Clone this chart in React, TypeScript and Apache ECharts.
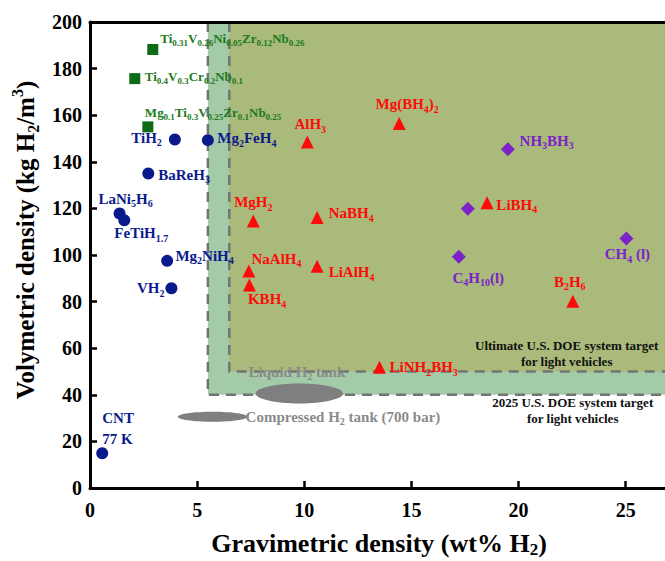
import React, { useEffect, useRef } from 'react';
import * as echarts from 'echarts';

// ---------- data ----------
const X_MAX = 27.3;
const Y_MAX = 200;
const xTickValues = [0, 5, 10, 15, 20, 25];

// alloys (green squares)
const alloyLabels = [
  'Ti{s|0.31}V{s|0.26}Ni{s|0.05}Zr{s|0.12}Nb{s|0.26}',
  'Ti{s|0.4}V{s|0.3}Cr{s|0.2}Nb{s|0.1}',
  'Mg{s|0.1}Ti{s|0.3}V{s|0.25}Zr{s|0.1}Nb{s|0.25}',
];
const alloyX = [2.93, 2.09, 2.7];
const alloyY = [188.2, 175.7, 155.0];

// metal hydrides & others (blue circles)
const metalLabels = ['TiH{s|2}', 'Mg{s|2}FeH{s|4}', 'BaReH{s|3}', 'LaNi{s|5}H{s|6}', 'FeTiH{s|1.7}', 'Mg{s|2}NiH{s|4}', 'VH{s|2}', 'CNT\n77 K'];
const metalX = [3.96, 5.5, 2.72, 1.38, 1.6, 3.6, 3.8, 0.57];
const metalY = [149.6, 149.3, 135.0, 117.8, 114.9, 97.5, 85.7, 14.9];

// complex hydrides (red triangles)
const complexLabels = ['Mg(BH{s|4}){s|2}', 'AlH{s|3}', 'MgH{s|2}', 'NaBH{s|4}', 'NaAlH{s|4}', 'KBH{s|4}', 'LiAlH{s|4}', 'LiBH{s|4}', 'B{s|2}H{s|6}', 'LiNH{s|2}BH{s|3}'];
const complexX = [14.43, 10.14, 7.62, 10.6, 7.41, 7.44, 10.6, 18.53, 22.53, 13.51];
const complexY = [156.4, 148.5, 114.6, 116.1, 93.1, 87.1, 95.2, 122.4, 80.2, 51.8];

// chemical hydrides (purple diamonds)
const chemLabels = ['NH{s|3}BH{s|3}', '', 'C{s|4}H{s|10}(l)', 'CH{s|4} (l)'];
const chemX = [19.5, 17.63, 17.21, 25.03];
const chemY = [145.4, 119.8, 99.2, 107.1];

// DOE targets (lower-left corners of the target regions)
const targetNames = ['2025 U.S. DOE system target\nfor light vehicles', 'Ultimate U.S. DOE system target\nfor light vehicles'];
const targetX = [5.5, 6.5];
const targetY = [40, 50];

// storage tanks (ellipses: centre, full width, full height)
const tankNames = ['Liquid H{s|2} tank', 'Compressed H{s|2} tank (700 bar)'];
const tankX = [9.77, 5.72];
const tankY = [40.6, 30.6];
const tankW = [4.08, 3.24];
const tankH = [8.6, 4.3];

// ---------- styles / layout ----------
const FONT = '"Liberation Serif", "Times New Roman", serif';
const BLUE = '#0A1A8C';
const RED = '#FF0A0A';
const GREEN_MK = '#0D6B16';
const GREEN_TX = '#1B7B1B';
const PURPLE = '#7B22C9';
const LIGHT_GREEN = '#A4CBA7';
const OLIVE = '#AABA7A';
const GRAY = '#7F7F7F';

const alloyLayout = [
  { position: 'right', distance: 2, offset: [0, -11] },
  { position: 'right', distance: 4.5, offset: [0, -2] },
  { position: 'right', distance: 0, offset: [-8.5, -14.7] },
];
const metalLayout: any[] = [
  { position: 'left', distance: 7, offset: [0, -1.5] },
  { position: 'right', distance: 3.4, offset: [0, -2] },
  { position: 'right', distance: 4, offset: [0, 1.5] },
  { position: 'top', distance: 1, offset: [6, 2] },
  { position: 'bottom', distance: 0, offset: [17, -3] },
  { position: 'right', distance: 2.3, offset: [0, -5] },
  { position: 'left', distance: 1, offset: [0, 0] },
  { position: 'top', distance: -2, offset: [0, 0], align: 'left', lineHeight: 21 },
];
const complexLayout = [
  { position: 'top', distance: 5, offset: [8, 2] },
  { position: 'top', distance: 3, offset: [3, 2] },
  { position: 'top', distance: 4, offset: [0, 2] },
  { position: 'right', distance: 5, offset: [0, -4] },
  { position: 'right', distance: -3.8, offset: [0, -12.5] },
  { position: 'bottom', distance: 0.5, offset: [17.7, -3] },
  { position: 'right', distance: 5, offset: [0, 6] },
  { position: 'right', distance: 2.8, offset: [0, 2] },
  { position: 'top', distance: 5, offset: [-3, 2] },
  { position: 'right', distance: 3.5, offset: [0, 0] },
];
const chemLayout: any[] = [
  { position: 'right', distance: 4.7, offset: [0, -8.5] },
  { show: false },
  { position: 'bottom', distance: 7, offset: [19.5, -3] },
  { position: 'bottom', distance: 2, offset: [1, -3] },
];
const tankLayout = [
  { dx: -50.8, dy: -21.6 },
  { dx: 33, dy: 0 },
];

function richFor(color: string, sub: number, pad: number) {
  return {
    s: { fontSize: sub, fontWeight: 'bold', fontFamily: FONT, color, padding: [pad, 0, 0, 0] },
  };
}

function scatterSeries(
  name: string,
  xs: number[],
  ys: number[],
  labels: string[],
  layout: any[],
  symbol: string,
  size: number,
  markerColor: string,
  textColor: string,
  fontSize: number,
  subSize: number,
  subPad: number
) {
  return {
    name,
    type: 'scatter',
    symbol,
    symbolSize: size,
    itemStyle: { color: markerColor, opacity: 1 },
    z: 4,
    data: xs.map((x, i) => ({
      value: [x, ys[i]],
      label: { ...layout[i] },
    })),
    label: {
      show: true,
      formatter: (p: any) => labels[p.dataIndex],
      color: textColor,
      fontSize,
      fontWeight: 'bold',
      fontFamily: FONT,
      rich: richFor(textColor, subSize, subPad),
    },
    emphasis: { disabled: true },
  };
}

export default function App() {
  const ref = useRef<HTMLDivElement>(null);

  useEffect(() => {
    if (!ref.current) return;
    const chart = echarts.init(ref.current, undefined, { renderer: 'svg' });

    const axisLabelStyle = { fontSize: 20, fontWeight: 'bold', fontFamily: FONT, color: '#000' };

    const option: any = {
      animation: false,
      backgroundColor: '#fff',
      grid: { left: 90, right: -10, top: 22, bottom: 73, containLabel: false, outerBoundsMode: 'none' },
      xAxis: [
        {
          type: 'value',
          min: 0,
          max: X_MAX,
          interval: 5,
          z: 6,
          position: 'bottom',
          splitLine: { show: false },
          axisLine: { show: true, lineStyle: { color: '#000', width: 3 } },
          axisTick: { show: true, inside: true, length: 7, lineStyle: { color: '#000', width: 2.5 }, customValues: xTickValues },
          axisLabel: { ...axisLabelStyle, margin: 12, customValues: xTickValues, formatter: (v: number) => (v % 5 === 0 ? String(v) : '') },
          name: 'Gravimetric density (wt% H{s|2})',
          nameLocation: 'middle',
          nameGap: 41,
          nameTextStyle: {
            fontSize: 26,
            fontWeight: 'bold',
            fontFamily: FONT,
            color: '#000',
            padding: [0, 7, 0, 0],
            rich: { s: { fontSize: 17, fontWeight: 'bold', fontFamily: FONT, color: '#000', padding: [12, 0, 0, 0] } },
          },
        },
        {
          type: 'value',
          min: 0,
          max: X_MAX,
          position: 'top',
          z: 6,
          axisLine: { show: true, lineStyle: { color: '#000', width: 3 } },
          axisTick: { show: false },
          axisLabel: { show: false },
          splitLine: { show: false },
        },
      ],
      yAxis: {
        type: 'value',
        min: 0,
        max: Y_MAX,
        interval: 20,
        z: 6,
        splitLine: { show: false },
        axisLine: { show: true, lineStyle: { color: '#000', width: 3 } },
        axisTick: { show: true, inside: true, length: 7, lineStyle: { color: '#000', width: 2.5 } },
        axisLabel: { ...axisLabelStyle, margin: 8 },
        name: 'Volymetric density (kg H{s|2}/m{p|3})',
        nameLocation: 'middle',
        nameGap: 44,
        nameTextStyle: {
          fontSize: 25,
          fontWeight: 'bold',
          fontFamily: FONT,
          color: '#000',
          padding: [0, 0, 0, 30],
          rich: {
            s: { fontSize: 16, fontWeight: 'bold', fontFamily: FONT, color: '#000', padding: [16, 0, 0, 0] },
            p: { fontSize: 16, fontWeight: 'bold', fontFamily: FONT, color: '#000', padding: [0, 0, 16, 0] },
          },
        },
      },
      graphic: [
        {
          type: 'text',
          x: 566.7,
          y: 353,
          z: 10,
          style: {
            text: targetNames[1],
            align: 'center',
            verticalAlign: 'middle',
            fontSize: 13,
            fontWeight: 'bold',
            fontFamily: FONT,
            fill: '#111',
            lineHeight: 16,
          },
        },
        {
          type: 'text',
          x: 572.7,
          y: 410.3,
          z: 10,
          style: {
            text: targetNames[0],
            align: 'center',
            verticalAlign: 'middle',
            fontSize: 13,
            fontWeight: 'bold',
            fontFamily: FONT,
            fill: '#111',
            lineHeight: 16,
          },
        },
      ],
      series: [
        {
          name: 'DOE targets',
          type: 'custom',
          z: 1,
          silent: true,
          data: targetX.map((x, i) => [x, targetY[i]]),
          renderItem: (params: any, api: any) => {
            const p0 = api.coord([api.value(0), api.value(1)]);
            const p1 = api.coord([X_MAX, Y_MAX]);
            const fill = params.dataIndex === 0 ? LIGHT_GREEN : OLIVE;
            return {
              type: 'group',
              children: [
                {
                  type: 'rect',
                  shape: { x: p0[0], y: p1[1], width: p1[0] - p0[0], height: p0[1] - p1[1] },
                  style: { fill },
                },
                {
                  type: 'polyline',
                  shape: { points: [[p0[0], p1[1]], [p0[0], p0[1]], [p1[0], p0[1]]] },
                  style: { stroke: '#747474', lineWidth: 2.5, lineDash: [10, 7], fill: null },
                },
              ],
            };
          },
        },
        {
          name: 'Tanks',
          type: 'custom',
          z: 3,
          silent: true,
          data: tankX.map((x, i) => [x, tankY[i], tankW[i], tankH[i]]),
          renderItem: (params: any, api: any) => {
            const i = params.dataIndex;
            const c = api.coord([api.value(0), api.value(1)]);
            const s = api.size([api.value(2), api.value(3)]);
            const lay = tankLayout[i];
            return {
              type: 'group',
              children: [
                { type: 'ellipse', shape: { cx: c[0], cy: c[1], rx: s[0] / 2, ry: s[1] / 2 }, style: { fill: GRAY } },
                {
                  type: 'text',
                  x: c[0] + lay.dx,
                  y: c[1] + lay.dy,
                  style: {
                    text: tankNames[i],
                    align: 'left',
                    verticalAlign: 'middle',
                    fontSize: 15,
                    fontWeight: 'bold',
                    fontFamily: FONT,
                    fill: '#8A8A8A',
                    rich: {
                      s: { fontSize: 10, fontWeight: 'bold', fontFamily: FONT, fill: '#8A8A8A', padding: [10, 0, 0, 0] },
                    },
                  },
                },
              ],
            };
          },
        },
        scatterSeries('Alloys', alloyX, alloyY, alloyLabels, alloyLayout, 'rect', 11, GREEN_MK, GREEN_TX, 13, 9, 9),
        scatterSeries('Metal hydrides', metalX, metalY, metalLabels, metalLayout, 'circle', 12, BLUE, BLUE, 15, 10, 10),
        scatterSeries('Complex hydrides', complexX, complexY, complexLabels, complexLayout, 'triangle', 13, RED, RED, 15, 10, 10),
        scatterSeries('Chemical hydrides', chemX, chemY, chemLabels, chemLayout, 'diamond', 14, PURPLE, PURPLE, 15, 10, 10),
      ],
    };

    chart.setOption(option);
    return () => chart.dispose();
  }, []);

  return (
    <div
      ref={ref}
      style={{ position: 'fixed', left: 0, top: 0, width: 665, height: 561, background: '#fff' }}
    />
  );
}
